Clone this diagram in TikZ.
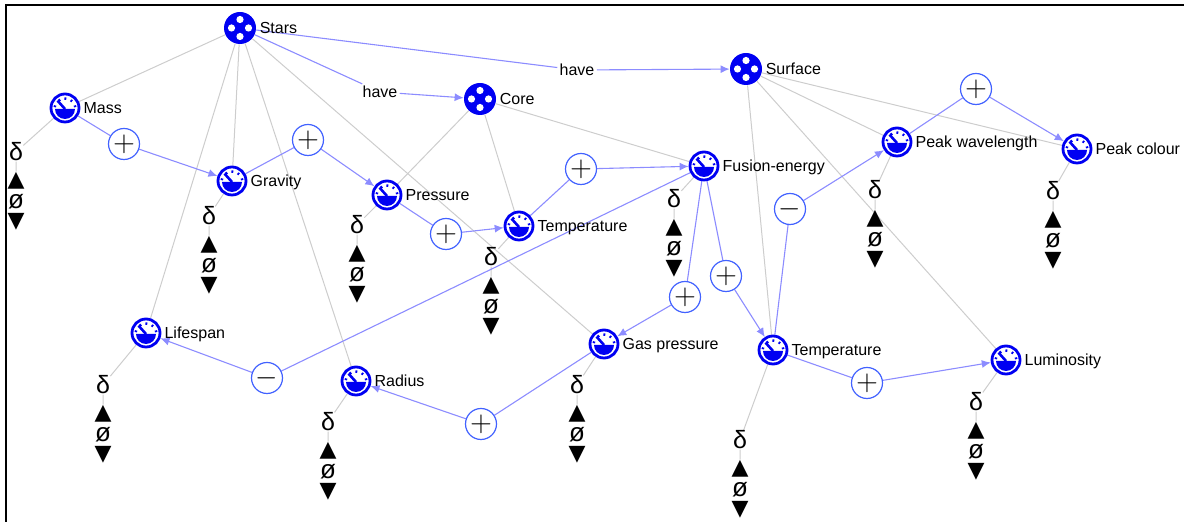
\documentclass[tikz,border=0pt]{standalone}
\usepackage{fontspec}
\setmainfont{Liberation Sans}
\newfontfamily\symfont{DejaVu Sans}
\usetikzlibrary{positioning,arrows.meta,backgrounds}

\definecolor{iconblue}{HTML}{0000F2}
\definecolor{opblue}{HTML}{4262FF}
\definecolor{inflblue}{HTML}{8C8CFF}
\definecolor{linkgray}{HTML}{CDCDCD}

\tikzset{
  entity/.style={circle, fill=iconblue, minimum size=16pt, inner sep=0pt,
    path picture={
      \foreach \a in {0,90,180,270}
        \fill[white] ([shift={(\a:4.25pt)}]path picture bounding box.center) circle[radius=1.8pt];
    }},
  gauge/.style={circle, draw=iconblue, line width=1.4pt, fill=white, minimum size=14pt, inner sep=0pt,
    path picture={
      \coordinate (gc) at ([yshift=-0.5pt]path picture bounding box.center);
      \fill[iconblue] ([xshift=-5pt]gc) arc[start angle=180, end angle=360, radius=5pt] -- cycle;
      \draw[iconblue, line width=1.3pt] (gc) -- ++(132:5.6pt);
      \foreach \a in {165,122,88,52,15}
        \draw[iconblue, line width=0.9pt] ([shift={(\a:4.6pt)}]gc) -- ([shift={(\a:5.8pt)}]gc);
    }},
  op/.style={circle, draw=opblue, line width=0.6pt, fill=white, minimum size=15.5pt, inner sep=0pt,
    font=\fontsize{13.5}{14}\selectfont},
  lbl/.style={inner sep=0pt, font=\fontsize{8}{9}\selectfont, text height=5.7pt, text depth=0pt},
  dlt/.style={inner sep=0pt, font=\fontsize{12.5}{12}\selectfont},
  tri/.style={inner sep=0pt, font=\symfont\fontsize{11}{11}\selectfont},
  nul/.style={inner sep=0pt, font=\fontsize{13}{13}\selectfont},
  link/.style={draw=linkgray, line width=0.5pt},
  infl/.style={draw=inflblue, line width=0.55pt},
  arr/.style={-{Latex[length=4.5pt,width=4pt]}},
}

\begin{document}
\begin{tikzpicture}[x=0.5pt, y=-0.5pt]
\useasboundingbox (0,0) rectangle (1184,522);
\draw[line width=1pt] (6,522) -- (6,5) -- (1184,5);

% entities
\node[entity] (stars) at (240,28) {};
\node[entity] (core) at (480,99) {};
\node[entity] (surface) at (746,69) {};
\node[lbl, right=1.5pt of stars] (starsL) {Stars};
\node[lbl, right=1.5pt of core] (coreL) {Core};
\node[lbl, right=1.5pt of surface] (surfaceL) {Surface};
\node[lbl, inner sep=1pt] (have1) at (380,92) {have};
\node[lbl, inner sep=1pt] (have2) at (577,70) {have};

% quantities
\node[gauge] (mass) at (65,108) {};
\node[gauge] (gravity) at (232,181) {};
\node[gauge] (pressure) at (387,195) {};
\node[gauge] (tempcore) at (519,226) {};
\node[gauge] (fusion) at (704,166) {};
\node[gauge] (gaspres) at (604,344) {};
\node[gauge] (tempsurf) at (773,350) {};
\node[gauge] (radius) at (356,381) {};
\node[gauge] (lifespan) at (146,333) {};
\node[gauge] (peakwave) at (897,142) {};
\node[gauge] (peakcol) at (1077,149) {};
\node[gauge] (lumin) at (1006,360) {};

\node[lbl, right=1.4pt of mass] (massL) {Mass};
\node[lbl, right=1.4pt of gravity] (gravityL) {Gravity};
\node[lbl, right=1.4pt of pressure] (pressureL) {Pressure};
\node[lbl, right=1.4pt of tempcore] (tempcoreL) {Temperature};
\node[lbl, right=1.4pt of fusion] (fusionL) {Fusion-energy};
\node[lbl, right=1.4pt of gaspres] (gaspresL) {Gas pressure};
\node[lbl, right=1.4pt of tempsurf] (tempsurfL) {Temperature};
\node[lbl, right=1.4pt of radius] (radiusL) {Radius};
\node[lbl, right=1.4pt of lifespan] (lifespanL) {Lifespan};
\node[lbl, right=1.4pt of peakwave] (peakwaveL) {Peak wavelength};
\node[lbl, right=1.4pt of peakcol] (peakcolL) {Peak colour};
\node[lbl, right=1.4pt of lumin] (luminL) {Luminosity};

% derivatives
\node[dlt] (massD) at (16,152) {δ};
\node[dlt] (gravityD) at (209,216) {δ};
\node[dlt] (pressureD) at (357,225) {δ};
\node[dlt] (tempcoreD) at (491,257) {δ};
\node[dlt] (fusionD) at (674,199) {δ};
\node[dlt] (gaspresD) at (577,385) {δ};
\node[dlt] (tempsurfD) at (740,440) {δ};
\node[dlt] (radiusD) at (328,422) {δ};
\node[dlt] (lifespanD) at (103,385) {δ};
\node[dlt] (peakwaveD) at (875,190) {δ};
\node[dlt] (peakcolD) at (1053,191) {δ};
\node[dlt] (luminD) at (976,402) {δ};

\foreach \q in {mass,gravity,pressure,tempcore,fusion,gaspres,tempsurf,radius,lifespan,peakwave,peakcol,lumin} {
  \node[tri, below=5pt of \q D] (\q U) {▲};
  \node[nul, below=2.5pt of \q U] (\q Z) {ø};
  \node[tri, below=1.8pt of \q Z] (\q W) {▼};
}

% influences
\node[op] (p1) at (124,144) {$+$};
\node[op] (p2) at (308,140) {$+$};
\node[op] (p3) at (446,234) {$+$};
\node[op] (p4) at (581,169) {$+$};
\node[op] (p5) at (685,297) {$+$};
\node[op] (p6) at (726,276) {$+$};
\node[op] (m1) at (790,209) {$-$};
\node[op] (p7) at (976,89) {$+$};
\node[op] (p8) at (481,424) {$+$};
\node[op] (m2) at (267,378) {$-$};
\node[op] (p9) at (867,383) {$+$};

\begin{scope}[on background layer]
  % structure
  \draw[link] (stars) -- (mass);
  \draw[link] (stars) -- (gravity);
  \draw[link] (stars) -- (lifespan);
  \draw[link] (stars) -- (radius);
  \draw[link] (stars) -- (gaspres);
  \draw[link] (core) -- (pressure);
  \draw[link] (core) -- (tempcore);
  \draw[link] (core) -- (fusion);
  \draw[link] (surface) -- (tempsurf);
  \draw[link] (surface) -- (peakwave);
  \draw[link] (surface) -- (peakcol);
  \draw[link] (surface) -- (lumin);
  \foreach \q in {mass,gravity,pressure,tempcore,fusion,gaspres,tempsurf,radius,lifespan,peakwave,peakcol,lumin}
    \draw[link] (\q) -- (\q D) -- (\q U);
  % configurations
  \draw[infl] (stars) -- (have1);
  \draw[infl, arr] (have1) -- (core);
  \draw[infl] (stars) -- (have2);
  \draw[infl, arr] (have2) -- (surface);
  % proportionalities
  \draw[infl] (mass) -- (p1);
  \draw[infl, arr] (p1) -- (gravity);
  \draw[infl] (gravity) -- (p2);
  \draw[infl, arr] (p2) -- (pressure);
  \draw[infl] (pressure) -- (p3);
  \draw[infl, arr] (p3) -- (tempcore);
  \draw[infl] (tempcore) -- (p4);
  \draw[infl, arr] (p4) -- (fusion);
  \draw[infl] (fusion) -- (p5);
  \draw[infl, arr] (p5) -- (gaspres);
  \draw[infl] (fusion) -- (p6);
  \draw[infl, arr] (p6) -- (tempsurf);
  \draw[infl] (tempsurf) -- (m1);
  \draw[infl, arr] (m1) -- (peakwave);
  \draw[infl] (peakwave) -- (p7);
  \draw[infl, arr] (p7) -- (peakcol);
  \draw[infl] (gaspres) -- (p8);
  \draw[infl, arr] (p8) -- (radius);
  \draw[infl] (fusion) -- (m2);
  \draw[infl, arr] (m2) -- (lifespan);
  \draw[infl] (tempsurf) -- (p9);
  \draw[infl, arr] (p9) -- (lumin);
\end{scope}
\end{tikzpicture}
\end{document}
